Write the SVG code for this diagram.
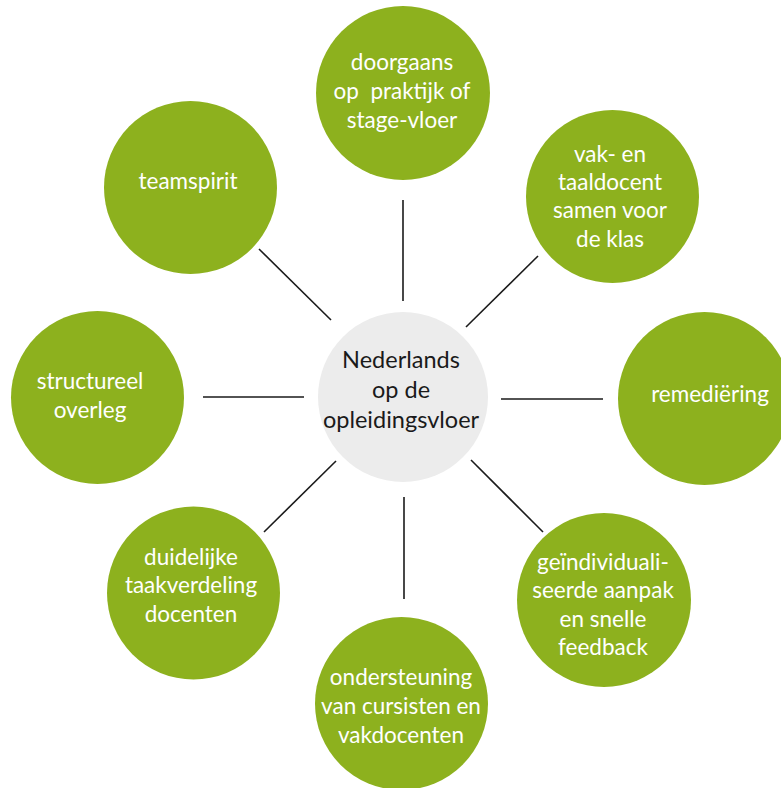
<svg xmlns="http://www.w3.org/2000/svg" width="781" height="788" viewBox="0 0 781 788">
<style>
.g{fill:#8db11e}
.c{fill:#ececec}
.t{font-family:Lato,"Open Sans","Liberation Sans",sans-serif;font-size:22.5px;fill:#ffffff;text-anchor:middle}
.tc{font-family:Lato,"Open Sans","Liberation Sans",sans-serif;font-size:23.5px;fill:#1a1a1a;text-anchor:middle}
.ln{stroke:#1a1a1a;stroke-width:1.6;fill:none}
</style>
<rect width="781" height="788" fill="#ffffff"/>
<g id="connectors">
<line class="ln" x1="403" y1="200" x2="403" y2="301"/>
<line class="ln" x1="466" y1="327" x2="538" y2="256"/>
<line class="ln" x1="501" y1="399" x2="603" y2="399"/>
<line class="ln" x1="471" y1="460" x2="543" y2="532"/>
<line class="ln" x1="404" y1="497" x2="404" y2="599"/>
<line class="ln" x1="336" y1="461" x2="264" y2="532"/>
<line class="ln" x1="203" y1="397" x2="304" y2="397"/>
<line class="ln" x1="259" y1="249" x2="331" y2="320"/>
</g>
<g id="center">
<circle class="c" cx="403" cy="397" r="85"/>
<text class="tc" x="401" y="368">Nederlands</text>
<text class="tc" x="401" y="398">op de</text>
<text class="tc" x="401" y="428">opleidingsvloer</text>
</g>
<g id="n-top">
<circle class="g" cx="403" cy="93" r="87"/>
<text class="t" x="402" y="70">doorgaans</text>
<text class="t" x="402" y="99" xml:space="preserve">op  praktijk of</text>
<text class="t" x="402" y="128">stage-vloer</text>
</g>
<g id="n-topright">
<circle class="g" cx="612.5" cy="196.5" r="86.5"/>
<text class="t" x="610" y="162">vak- en</text>
<text class="t" x="610" y="190">taaldocent</text>
<text class="t" x="610" y="218">samen voor</text>
<text class="t" x="610" y="247">de klas</text>
</g>
<g id="n-right">
<circle class="g" cx="704.5" cy="398.5" r="86.5"/>
<text class="t" x="710" y="402">remediëring</text>
</g>
<g id="n-bottomright">
<circle class="g" cx="604" cy="600" r="87"/>
<text class="t" x="603" y="570">geïndividuali-</text>
<text class="t" x="603" y="598">seerde aanpak</text>
<text class="t" x="603" y="627">en snelle</text>
<text class="t" x="603" y="655">feedback</text>
</g>
<g id="n-bottom">
<circle class="g" cx="401.5" cy="703.5" r="86.5"/>
<text class="t" x="401" y="685">ondersteuning</text>
<text class="t" x="401" y="714">van cursisten en</text>
<text class="t" x="401" y="743">vakdocenten</text>
</g>
<g id="n-bottomleft">
<circle class="g" cx="193.5" cy="593" r="86.5"/>
<text class="t" x="191" y="565">duidelijke</text>
<text class="t" x="191" y="593">taakverdeling</text>
<text class="t" x="191" y="622">docenten</text>
</g>
<g id="n-left">
<circle class="g" cx="97.5" cy="397.5" r="86.5"/>
<text class="t" x="90" y="389">structureel</text>
<text class="t" x="90" y="418">overleg</text>
</g>
<g id="n-topleft">
<circle class="g" cx="190.5" cy="187.5" r="86.5"/>
<text class="t" x="188" y="189">teamspirit</text>
</g>
</svg>
